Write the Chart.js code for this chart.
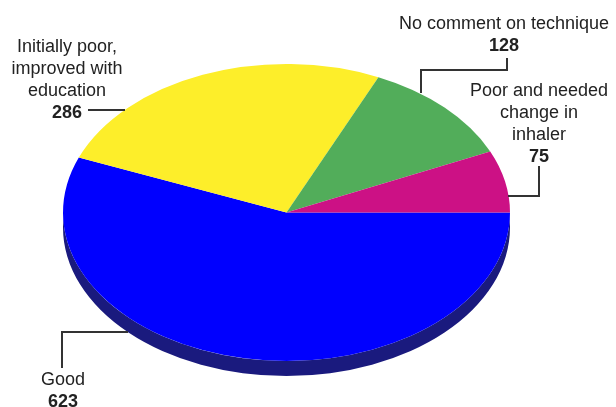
<!DOCTYPE html>
<html>
<head>
<meta charset="utf-8">
<script src="https://cdn.jsdelivr.net/npm/chart.js@4"></script>
<style>
  html, body { margin: 0; padding: 0; background: #fff; }
  #wrap { width: 616px; height: 407px; }
</style>
</head>
<body>
<div id="wrap"><canvas id="pie" width="616" height="407"></canvas></div>
<script>
// data
const categories = ["Good", "Initially poor, improved with education", "No comment on technique", "Poor and needed change in inhaler"];
const counts = [623, 286, 128, 75];
const sliceColors = ["#0000ff", "#fdee2a", "#52ad5a", "#cc1185"];

// where each label sits (text lines, bold number, leader line)
const labelLayout = [
    { lines: ["Good"], x: 63, y: 385, line: [[62, 368], [62, 332], [128, 332]] },
    { lines: ["Initially poor,", "improved with", "education"], x: 67, y: 52, line: [[88, 110], [125, 110]] },
    { lines: ["No comment on technique"], x: 504, y: 29, line: [[507, 58], [507, 70], [421, 70], [421, 93]] },
    { lines: ["Poor and needed", "change in", "inhaler"], x: 539, y: 96, line: [[539, 166], [539, 196], [508, 196]] },
];

const squashX = 223.5 / 148.5;  // pie is drawn as an ellipse, wider than tall
const depth = 15;

// Stretch the pie horizontally and give it a darker rim underneath
const pie3d = {
    id: "pie3d",
    beforeDatasetsDraw(chart) {
        const ctx = chart.ctx;
        const arc = chart.getDatasetMeta(0).data[0];
        const cx = arc.x, cy = arc.y, r = arc.outerRadius;
        ctx.save();
        ctx.translate(cx, cy);
        ctx.scale(squashX, 1);
        ctx.translate(-cx, -cy);
        ctx.fillStyle = "#1a1a7e";
        ctx.beginPath();
        ctx.arc(cx, cy + depth, r, 0, Math.PI);
        ctx.lineTo(cx - r, cy);
        ctx.arc(cx, cy, r, Math.PI, 0, true);
        ctx.closePath();
        ctx.fill();
    },
    afterDatasetsDraw(chart) {
        chart.ctx.restore();
    },
    afterDraw(chart) {
        const ctx = chart.ctx;
        ctx.save();
        ctx.strokeStyle = "#333";
        ctx.lineWidth = 2;
        ctx.fillStyle = "#222";
        ctx.textAlign = "center";
        ctx.textBaseline = "alphabetic";
        labelLayout.forEach((lab, i) => {
            ctx.font = "18px 'Liberation Sans', Arial, sans-serif";
            lab.lines.forEach((t, j) => ctx.fillText(t, lab.x, lab.y + j * 22));
            ctx.font = "bold 18px 'Liberation Sans', Arial, sans-serif";
            ctx.fillText(String(counts[i]), lab.x, lab.y + lab.lines.length * 22);
            ctx.beginPath();
            lab.line.forEach((p, k) => k ? ctx.lineTo(p[0], p[1]) : ctx.moveTo(p[0], p[1]));
            ctx.stroke();
        });
        ctx.restore();
    }
};

new Chart(document.getElementById("pie").getContext("2d"), {
    type: "pie",
    data: {
        labels: categories,
        datasets: [{
            data: counts,
            backgroundColor: sliceColors,
            borderWidth: 0,
            radius: 148.5,
            clip: false
        }]
    },
    options: {
        responsive: false,
        animation: false,
        events: [],
        rotation: 90,
        layout: { padding: { left: 0, right: 43, top: 18, bottom: 0 } },
        plugins: {
            legend: { display: false },
            tooltip: { enabled: false }
        }
    },
    plugins: [pie3d]
});
</script>
</body>
</html>
